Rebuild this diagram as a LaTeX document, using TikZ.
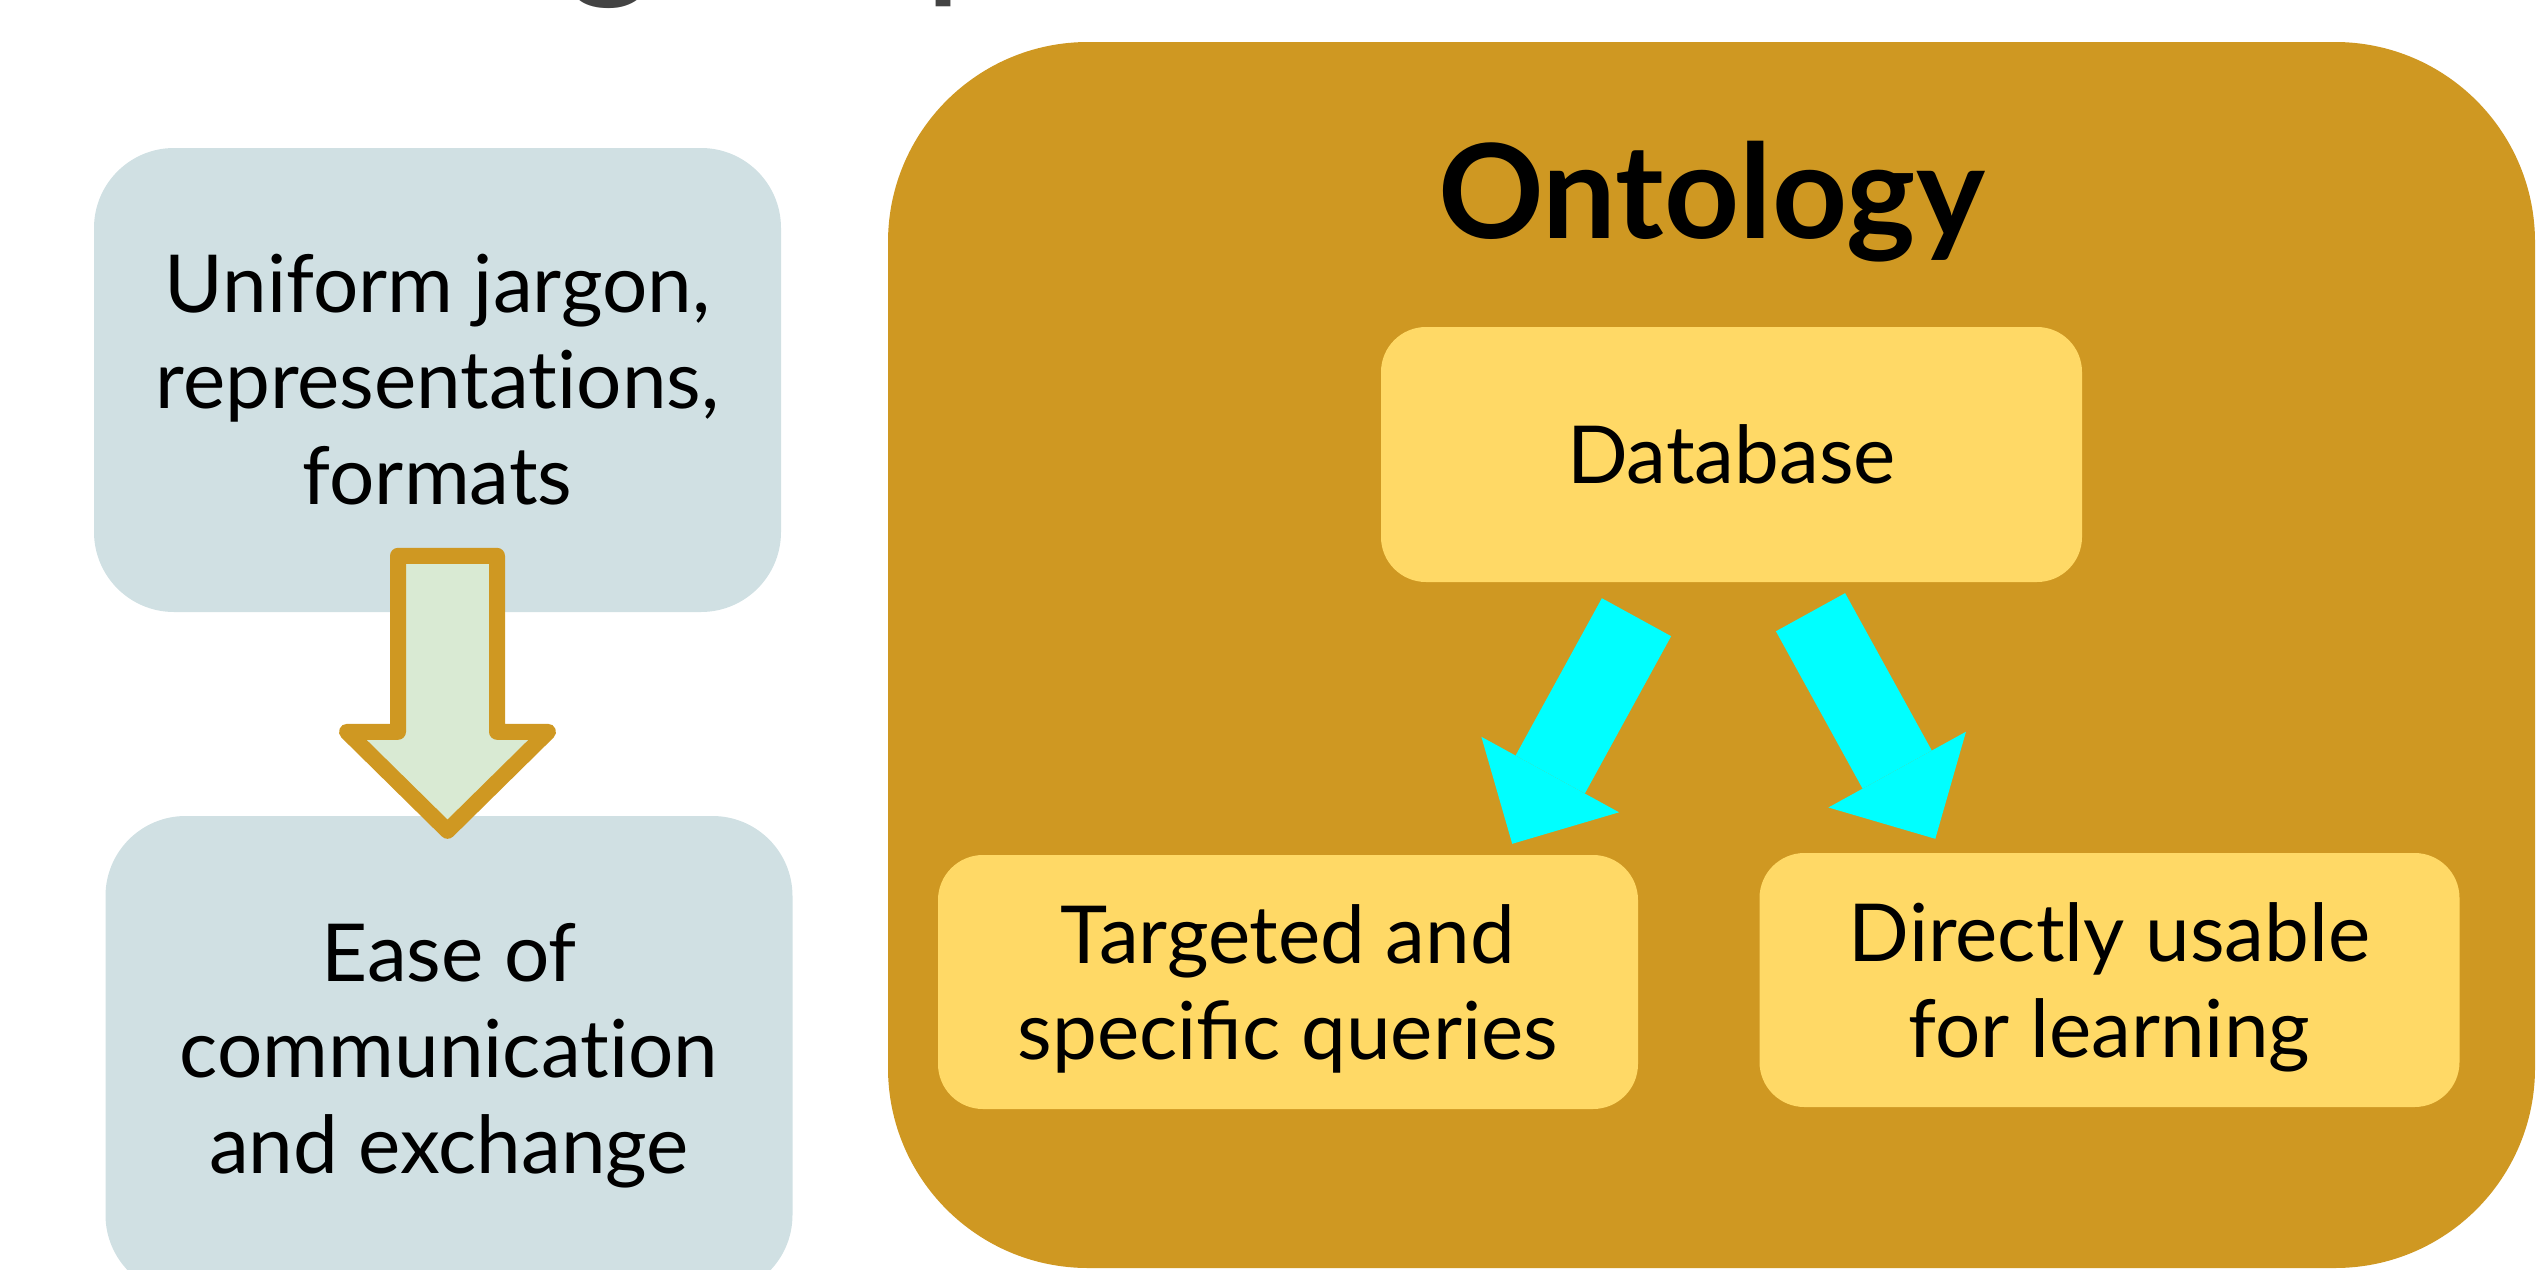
\documentclass[tikz,border=0pt]{standalone}
\usepackage{fontspec}
\setmainfont{Lato}
\usepackage{tikz}
\usetikzlibrary{arrows.meta,positioning,calc}
\definecolor{ontoGold}{HTML}{CF9822}
\definecolor{ontoSky}{HTML}{D0E0E3}
\definecolor{ontoMint}{HTML}{D9EAD3}
\definecolor{ontoButter}{HTML}{FFD966}
\definecolor{ontoCyan}{HTML}{00FFFF}
\definecolor{ontoGrey}{HTML}{434343}
% keep "t" and "i" apart (no ti ligature)
\newcommand{\tsep}{\kern0pt }

\begin{document}
\begin{tikzpicture}[x=1pt,y=-1pt,
  boxtext/.style={font=\fontsize{80}{96}\selectfont,align=center,inner sep=0pt},
  skybox/.style={boxtext,fill=ontoSky,rounded corners=80pt,
                 minimum width=687pt},
  butterbox/.style={boxtext,fill=ontoButter,rounded corners=45pt,
                    minimum width=700pt,minimum height=254pt,text depth=0pt},
  flowcyan/.style={ontoCyan,line width=79pt,
                   -{Triangle[width=157pt,length=79pt,line width=0pt]}}]
\useasboundingbox (0,0) rectangle (2546,1269);
% slide title, mostly cut off
\node[anchor=base west,inner sep=0pt,text=ontoGrey,
      font=\fontsize{165}{198}\selectfont] (title) at (-75,-22) {Knowledge representation};
% left column
\node[skybox,minimum height=464pt] (jargon) at (437.5,380)
  {Uniform jargon,\\representat\tsep ions,\\formats};
\node[skybox,minimum height=479pt] (ease) at (449,1055.5)
  {Ease of\\communicat\tsep ion\\and exchange};
\coordinate (flowtip) at ($(ease.north)+(-1.5,15)$);
\draw[ontoGold,fill=ontoMint,line width=16pt,line join=round]
  (flowtip) -- ++(-100.5,-99) -- ++(51,0) -- ++(0,-176) -- ++(99,0)
  -- ++(0,176) -- ++(51,0) -- cycle;
% ontology panel
\node[fill=ontoGold,rounded corners=200pt,minimum width=1647pt,
      minimum height=1226pt] (onto) at (1711.5,655) {};
\node[anchor=base,inner sep=0pt,font=\fontsize{131}{157}\selectfont\bfseries]
  (ontotitle) at (1711.5,238) {Ontology};
\node[butterbox,minimum width=701pt,minimum height=255pt] (db) at (1731.5,454.5) {Database};
\node[butterbox] (tq) at (1288,982) {Targeted and\\specific queries};
\node[butterbox] (dl) at (2109.5,980) {Directly usable\\for learning};
\draw[flowcyan] ($(db.south)+(-95,35)$) -- ($(tq.north east)+(-126,-11)$);
\draw[flowcyan] ($(db.south)+(79,30)$) -- ($(dl.north west)+(176,-14)$);
\end{tikzpicture}
\end{document}
